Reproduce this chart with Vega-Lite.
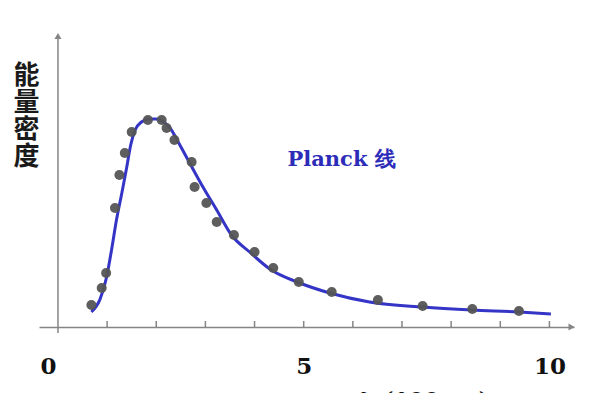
{
  "$schema": "https://vega.github.io/schema/vega-lite/v6.json",
  "width": 535,
  "height": 294,
  "autosize": {"type": "none"},
  "padding": {"left": 39, "top": 33, "right": 16, "bottom": 66},
  "background": "white",
  "config": {"view": {"stroke": null}},
  "datasets": {
    "points": [
      {"x": 0.68, "y": 22}, {"x": 0.89, "y": 39}, {"x": 0.98, "y": 54},
      {"x": 1.16, "y": 119}, {"x": 1.25, "y": 152}, {"x": 1.36, "y": 174},
      {"x": 1.50, "y": 195}, {"x": 1.83, "y": 207}, {"x": 2.11, "y": 207},
      {"x": 2.21, "y": 199}, {"x": 2.37, "y": 187}, {"x": 2.72, "y": 165},
      {"x": 2.78, "y": 140}, {"x": 3.02, "y": 124}, {"x": 3.23, "y": 105},
      {"x": 3.58, "y": 92}, {"x": 4.0, "y": 75}, {"x": 4.38, "y": 59},
      {"x": 4.90, "y": 45}, {"x": 5.57, "y": 35}, {"x": 6.51, "y": 27},
      {"x": 7.42, "y": 21}, {"x": 8.43, "y": 18}, {"x": 9.38, "y": 16}
    ],
    "curve": [
      {"x": 0.68, "y": 15}, {"x": 0.85, "y": 27}, {"x": 0.99, "y": 50},
      {"x": 1.09, "y": 77}, {"x": 1.19, "y": 107}, {"x": 1.30, "y": 134},
      {"x": 1.40, "y": 160}, {"x": 1.48, "y": 182}, {"x": 1.57, "y": 197},
      {"x": 1.70, "y": 205}, {"x": 1.85, "y": 208}, {"x": 2.0, "y": 208},
      {"x": 2.12, "y": 206}, {"x": 2.28, "y": 199}, {"x": 2.48, "y": 182},
      {"x": 2.68, "y": 164}, {"x": 2.95, "y": 140}, {"x": 3.23, "y": 117},
      {"x": 3.53, "y": 92}, {"x": 3.90, "y": 75}, {"x": 4.31, "y": 58},
      {"x": 4.92, "y": 44}, {"x": 5.53, "y": 34}, {"x": 6.34, "y": 25},
      {"x": 7.42, "y": 20}, {"x": 8.43, "y": 17}, {"x": 9.39, "y": 15},
      {"x": 10.03, "y": 13}
    ],
    "ticks": [
      {"t": 1}, {"t": 2}, {"t": 3}, {"t": 4}, {"t": 5},
      {"t": 6}, {"t": 7}, {"t": 8}, {"t": 9}, {"t": 10}
    ],
    "note": [{"x": 4.67, "y": 167, "text": "Planck 线"}]
  },
  "layer": [
    {
      "data": {"name": "curve"},
      "mark": {"type": "line", "color": "#3434c6", "strokeWidth": 3, "interpolate": "monotone"},
      "encoding": {
        "x": {
          "field": "x", "type": "quantitative",
          "scale": {"domain": [-0.386, 10.5], "nice": false, "zero": false},
          "axis": {
            "values": [0, 5, 10],
            "grid": false,
            "domainColor": "#858585", "domainWidth": 1.5,
            "ticks": false, "tickSize": 0,
            "labelFont": "DejaVu Serif", "labelFontWeight": "bold", "labelFontSize": 23,
            "labelColor": "#111111", "labelPadding": 28,
            "labelOffset": {"condition": {"test": "datum.value === 0", "value": -10}, "value": 0},
            "labelOverlap": false, "labelFlush": false,
            "title": "λ (100nm)",
            "titleFont": "DejaVu Serif", "titleFontWeight": "bold", "titleFontSize": 22,
            "titleColor": "#111111", "titleX": 385, "titleY": 63, "titleBaseline": "top", "titleAlign": "center"
          }
        },
        "y": {
          "field": "y", "type": "quantitative",
          "scale": {"domain": [0, 294], "nice": false},
          "axis": {
            "domain": false, "ticks": false, "labels": false, "grid": false,
            "title": ["能", "量", "密", "度"],
            "titleAngle": 0, "titleFont": "Noto Sans CJK SC", "titleFontWeight": "bold",
            "titleFontSize": 26, "titleLineHeight": 27, "titleColor": "#1a1a1a",
            "titleX": -13, "titleY": 29, "titleAlign": "center", "titleBaseline": "top"
          }
        }
      }
    },
    {
      "data": {"name": "ticks"},
      "mark": {"type": "rule", "color": "#858585", "strokeWidth": 1.5},
      "encoding": {
        "x": {"field": "t", "type": "quantitative"},
        "y": {"datum": 0, "type": "quantitative"},
        "y2": {"datum": 6}
      }
    },
    {
      "data": {"values": [{}]},
      "mark": {"type": "rule", "color": "#858585", "strokeWidth": 1.5},
      "encoding": {
        "x": {"datum": 0, "type": "quantitative"},
        "y": {"datum": -6, "type": "quantitative"},
        "y2": {"datum": 290}
      }
    },
    {
      "data": {"values": [{}]},
      "mark": {"type": "point", "shape": "triangle-up", "filled": true, "color": "#858585", "size": 50, "opacity": 1},
      "encoding": {
        "x": {"datum": 0, "type": "quantitative"},
        "y": {"datum": 291, "type": "quantitative"}
      }
    },
    {
      "data": {"values": [{}]},
      "mark": {"type": "point", "shape": "triangle-right", "filled": true, "color": "#858585", "size": 50, "opacity": 1},
      "encoding": {
        "x": {"datum": 10.45, "type": "quantitative"},
        "y": {"datum": 0, "type": "quantitative"}
      }
    },
    {
      "data": {"name": "points"},
      "mark": {"type": "circle", "color": "#555555", "size": 100, "opacity": 0.95},
      "encoding": {
        "x": {"field": "x", "type": "quantitative"},
        "y": {"field": "y", "type": "quantitative"}
      }
    },
    {
      "data": {"name": "note"},
      "mark": {"type": "text", "align": "left", "baseline": "middle", "font": "DejaVu Serif", "fontWeight": "bold", "fontSize": 21, "color": "#2c2cb8"},
      "encoding": {
        "x": {"field": "x", "type": "quantitative"},
        "y": {"field": "y", "type": "quantitative"},
        "text": {"field": "text"}
      }
    }
  ]
}
